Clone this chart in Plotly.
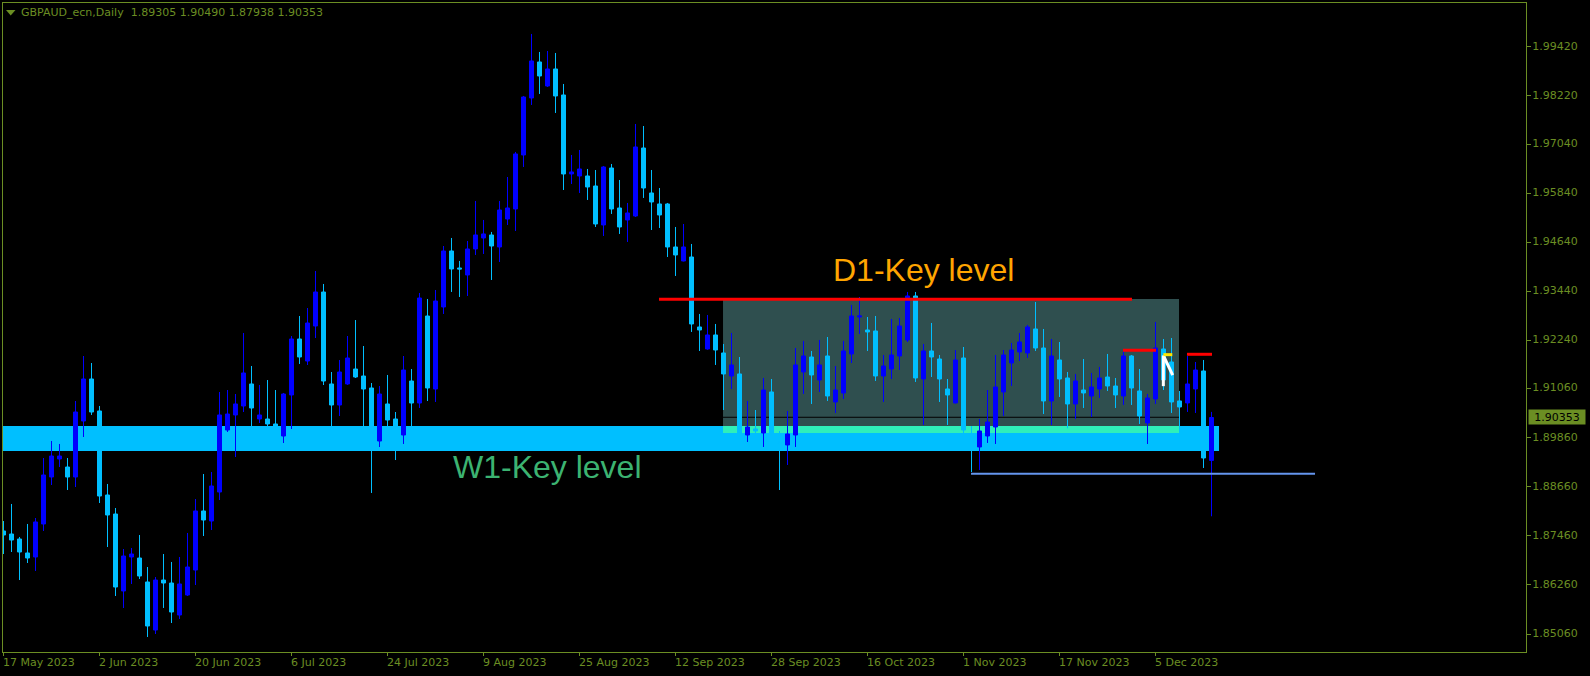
import plotly.graph_objects as go

POINT = 1e-5
highs = [187823,188239,187432,187750,187896,189363,189779,189706,189363,190757,
191857,191686,190635,188728,188141,187138,187163,187481,186698,186454,
187016,186821,186943,187530,188361,188972,189021,190977,191026,190928,
192420,191613,191148,191270,191026,190953,192346,192835,193031,193936,
193618,191466,191759,192346,192737,192102,191197,191124,191393,190488,
191857,191539,193398,193251,193471,194547,194743,194181,194670,195648,
195183,194890,195648,196234,196846,198215,199731,199291,199315,199266,
198508,196772,196894,196430,196405,196503,196552,196161,195599,197530,
197481,196405,195965,195599,195012,195085,194596,192885,192860,192640,
192151,192420,191833,190758,190537,191320,191295,190024,190513,192053,
192225,191980,192249,192322,191613,192225,193105,193300,192811,192836,
191882,192762,192787,193423,193423,192151,192665,191882,191295,192004,
192078,190146,190317,191026,191882,192004,192176,192420,192616,193178,
192518,192273,192200,191467,191418,191784,191442,191589,191907,191320,
192004,191882,191540,190929,192689,192273,192298,191002,191858,191711,
191760,190490]
body_tops = [187579,187505,187383,187041,187799,188948,189412,189412,189143,190488,
191295,191295,190513,188459,187994,186967,187016,186918,186332,186380,
186380,186307,186283,186698,188068,188068,188679,190415,190439,190684,
191442,191173,190415,190317,190195,190928,192273,192273,192664,193422,
193422,191173,191466,191808,191539,191368,191075,190928,190684,190317,
191515,191246,193275,192835,193202,194425,194425,194009,194474,194816,
194841,194816,195427,195476,196797,198190,199071,199046,198875,198875,
198239,196357,196430,196259,196014,196479,196454,195476,195354,196968,
196943,195843,195574,195574,194523,194523,194278,192567,192371,192371,
191931,191638,191418,190122,190073,191026,190978,189885,189951,191638,
191858,191833,191638,191858,191026,191980,192836,192836,192493,192469,
191613,191882,192591,193325,193325,191980,191980,191784,191051,191760,
191809,189926,190024,190244,191100,191882,192004,192200,192567,192518,
192053,191858,191760,191320,191247,191026,191100,191320,191344,191124,
191858,191858,191002,190831,192053,192029,191711,190758,191173,191515,
191491,190353]
body_bottoms = [187481,187358,187065,186918,186943,187750,188899,189339,188899,188899,
190268,190488,188434,187970,186209,186112,186943,186478,185256,185158,
186307,185598,185525,186014,186625,187847,187823,188532,190048,190415,
190635,190586,190317,190195,190129,189901,190904,191833,191735,192591,
191246,190659,190659,191173,191344,191050,189966,189779,190292,190048,
189926,190708,190708,191075,191050,193056,193985,193985,193838,194474,
194743,194547,194523,195207,195452,196772,198166,198704,198459,198215,
196308,196308,196259,195990,195085,195061,195452,195012,195183,195281,
195965,195623,195305,194523,194327,194181,192640,192493,192029,192004,
191418,191369,189975,189926,190024,189975,189926,189722,189682,189926,
191467,191393,191271,190880,190733,190953,191907,192811,192445,191369,
191369,191540,191858,192249,191320,191295,191833,191295,190904,190709,
190048,189845,189633,189902,190122,190978,191687,191956,191931,192053,
190758,190758,191295,190684,190684,190953,190880,191051,191124,190904,
190880,191075,190391,190220,190806,191271,190733,190611,190709,191051,
189364,189305]
lows = [187016,187065,186380,186796,186601,187579,188703,189143,188581,188654,
189877,190415,188263,187187,185989,185696,186283,186405,184987,185060,
185696,185329,185427,185989,186258,187456,187603,188336,189999,189388,
190488,189975,190219,190048,190007,189730,190072,191662,191637,192297,
191148,190048,190390,191150,191319,190007,188508,189632,190007,189314,
189706,190048,190586,190757,190733,192885,193423,193300,193325,194327,
194352,193716,194156,195061,194914,196479,197995,198264,198435,197799,
195916,196063,195843,195672,195012,194792,195330,194841,194645,195256,
195721,194938,194987,194278,193814,194170,192445,191980,192010,191638,
190537,191051,189885,189755,189926,189633,189845,188581,189193,189633,
190929,190684,190978,190758,190464,190806,191687,192396,191980,191247,
190733,191295,191515,192200,191222,190171,191344,190733,190171,190695,
189926,189021,189070,189731,189706,190391,191124,191736,191809,191980,
190440,190171,190855,190089,190317,190586,190366,190831,191002,190586,
190660,190660,190195,189706,190684,191026,190464,190089,190489,190464,
189119,187938]
rising = [0,0,0,0,1,1,1,1,0,1, 1,0,0,0,0,1,1,0,0,1, 0,0,1,1,1,0,1,1,1,1,
1,0,1,0,0,1,1,0,1,1, 0,0,1,1,0,0,0,1,0,0, 1,0,1,0,1,1,0,0,1,1,
1,0,1,1,1,1,1,0,1,0, 0,1,1,0,0,1,0,0,1,1, 0,0,0,0,0,1,0,0,1,0,
0,1,0,1,0,1,0,0,1,1, 1,0,1,0,1,1,1,1,0,0, 1,1,1,1,0,1,0,0,0,1,
0,0,1,1,1,1,1,1,1,0, 0,1,0,0,1,0,1,1,0,0, 1,0,0,1,1,0,0,0,1,1, 0,1]

price_ticks = [1.85060,1.86260,1.87460,1.88660,1.89860,1.91060,1.92240,1.93440,1.94640,1.95840,1.97040,1.98220,1.99420]
date_tick_index = [0,12,24,36,48,60,72,84,96,108,120,132,144]
date_tick_labels = ["17 May 2023","2 Jun 2023","20 Jun 2023","6 Jul 2023","24 Jul 2023","9 Aug 2023",
                    "25 Aug 2023","12 Sep 2023","28 Sep 2023","16 Oct 2023","1 Nov 2023","17 Nov 2023","5 Dec 2023"]
header = "GBPAUD_ecn,Daily\u00a0\u00a01.89305 1.90490 1.87938 1.90353"
last_price = 1.90353

opens = [(b if r else t) * POINT for t, b, r in zip(body_tops, body_bottoms, rising)]
closes = [(t if r else b) * POINT for t, b, r in zip(body_tops, body_bottoms, rising)]
x_index = list(range(len(highs)))

AXIS = "#6B8E23"
TICK_FONT = dict(family="DejaVu Sans", size=11, color=AXIS)

fig = go.Figure(go.Candlestick(
    x=x_index, open=opens, close=closes,
    high=[h * POINT for h in highs], low=[l * POINT for l in lows],
    increasing=dict(line=dict(color="#0000FF", width=1), fillcolor="#0000FF"),
    decreasing=dict(line=dict(color="#00BFFF", width=1), fillcolor="#00BFFF"),
    whiskerwidth=0, showlegend=False,
))

def rect(x0, x1, y0, y1, color, layer="below"):
    return dict(type="rect", x0=x0, x1=x1, y0=y0, y1=y1, xref="x", yref="y",
                fillcolor=color, line_width=0, layer=layer)

def seg(x0, x1, y0, y1, color, width, layer="above"):
    return dict(type="line", x0=x0, x1=x1, y0=y0, y1=y1, xref="x", yref="y",
                line=dict(color=color, width=width), layer=layer)

shapes = [
    rect(-0.0625, 151.94, 1.89535, 1.90146, "#00BFFF"),
    rect(89.94, 146.94, 1.90146, 1.93251, "#2F4F4F"),
    rect(89.94, 146.94, 1.89975, 1.90146, "#2FEFB9"),
    seg(89.94, 146.94, 1.90359, 1.90359, "#000000", 1, "below"),
    seg(81.94, 141.06, 1.93244, 1.93244, "#FF0000", 3),
    seg(139.94, 144.06, 1.91997, 1.91997, "#FF0000", 3),
    seg(147.94, 151.06, 1.91899, 1.91899, "#FF0000", 3),
    seg(120.94, 163.94, 1.8898, 1.8898, "#6495ED", 2),
    seg(144.98, 144.98, 1.9112, 1.9187, "#FFFFFF", 3),
    seg(144.98, 146.15, 1.9187, 1.9139, "#FFFFFF", 3),
    seg(144.98, 146.1, 1.9189, 1.9189, "#FFE600", 3),
    dict(type="path", path="M 0.00197 0.98921 L 0.00821 0.98921 L 0.00505 0.98074 Z", xref="paper", yref="paper",
         fillcolor=AXIS, line_width=0, layer="above"),
]

annotations = [
    dict(x=115.0, y=1.93936, xref="x", yref="y", text="D1-Key level", showarrow=False, yshift=1,
         font=dict(family="Liberation Sans", size=32, color="#FFA500")),
    dict(x=68.0, y=1.89131, xref="x", yref="y", text="W1-Key level", showarrow=False, yshift=1,
         font=dict(family="Liberation Sans", size=32, color="#3CB371")),
    dict(x=0.01182, y=0.98505, xref="paper", yref="paper", text=header, showarrow=False, xshift=-2,
         xanchor="left", yanchor="middle", font=TICK_FONT),
    dict(x=1.0013, y=last_price, xref="paper", yref="y", text=f"{last_price:.5f}", showarrow=False,
         xanchor="left", yanchor="middle", bgcolor=AXIS, width=56, height=14, align="center", yshift=1,
         borderpad=0, font=dict(family="DejaVu Sans", size=11, color="#000000")),
]
for i, label in zip(date_tick_index, date_tick_labels):
    annotations.append(dict(x=i, y=-0.0165, xref="x", yref="paper", text=label, showarrow=False,
                            xanchor="left", yanchor="middle", xshift=-3, font=TICK_FONT))

fig.update_layout(
    width=1590, height=676, autosize=False,
    margin=dict(l=3, r=64, t=3, b=24, pad=0),
    paper_bgcolor="#000000", plot_bgcolor="#000000",
    boxgap=0.5, boxgroupgap=0, hovermode=False, showlegend=False,
    shapes=shapes, annotations=annotations,
    xaxis=dict(range=[-0.0625, 190.3125], rangeslider_visible=False, showgrid=False, zeroline=False,
               showline=True, linecolor=AXIS, linewidth=1, mirror=True,
               tickmode="array", tickvals=date_tick_index, ticktext=[""] * len(date_tick_index),
               ticks="outside", ticklen=3, tickcolor=AXIS, tickwidth=1),
    yaxis=dict(range=[1.84620, 2.00488], side="right", showgrid=False, zeroline=False,
               showline=True, linecolor=AXIS, linewidth=1, mirror=True,
               tickmode="array", tickvals=price_ticks, tickformat=".5f",
               ticklabelstandoff=-1, ticklabelshift=-1,
               ticks="outside", ticklen=4, tickcolor=AXIS, tickwidth=1, tickfont=TICK_FONT),
)

fig.write_html("out.html", config={"displayModeBar": False},
               post_script="document.body.style.margin='0';document.body.style.overflow='hidden';")
